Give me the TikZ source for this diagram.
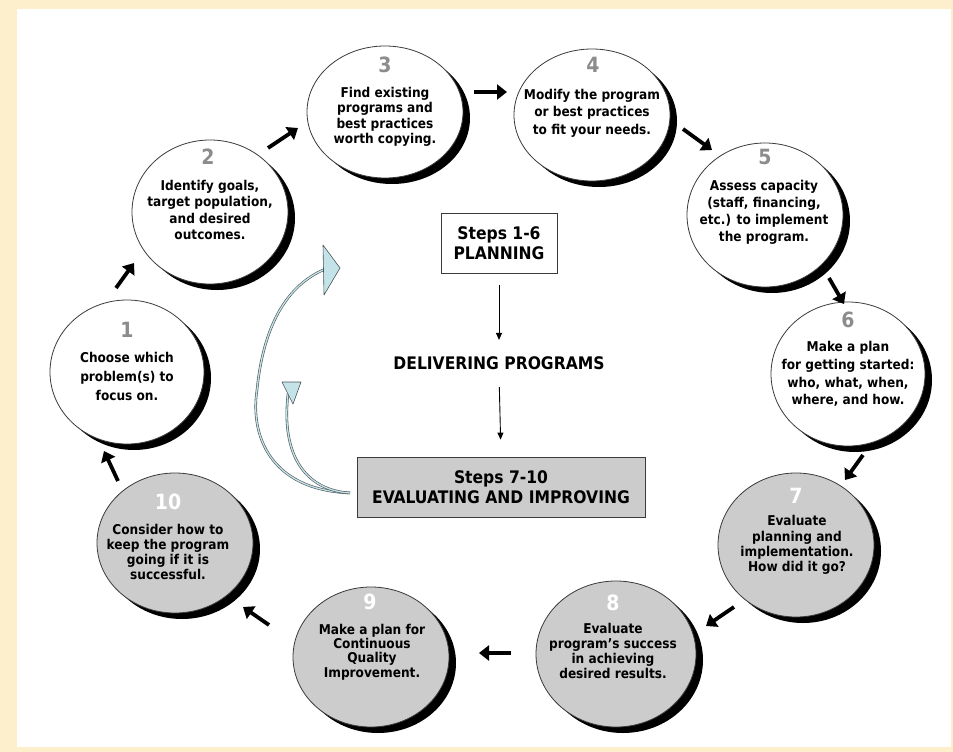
\documentclass[tikz,border=0pt]{standalone}
\usepackage{fontspec}
\setmainfont{DejaVu Sans Condensed}
\usetikzlibrary{arrows.meta,shapes.geometric}
\definecolor{cream}{HTML}{FDEFCB}
\definecolor{ellgray}{HTML}{CCCCCC}
\definecolor{numgray}{HTML}{8C8C8C}
\definecolor{arrowblue}{HTML}{C4E3E8}
\definecolor{edgec}{HTML}{3A3A3A}
\definecolor{curveedge}{HTML}{4A5558}
\newcommand{\bubble}[5]{%
  \node[ellipse, fill=black, minimum width=#3, minimum height=#4, inner sep=0pt] (#1s) at ([shift={(7,6)}]#2) {};
  \node[ellipse, draw=edgec, fill=#5, line width=0.8pt, minimum width=#3, minimum height=#4, inner sep=0pt] (#1) at (#2) {};
}
\tikzset{
  txt/.style={font=\bfseries\fontsize{13.5}{#1}\selectfont, align=center, text=black, inner sep=0pt},
  txt/.default=15.5,
  numw/.style={font=\bfseries\fontsize{21}{21}\selectfont, text=numgray, inner sep=0pt},
  numg/.style={font=\bfseries\fontsize{21}{21}\selectfont, text=white, inner sep=0pt},
  flow/.style={line width=3.8pt, -{Triangle[length=10pt,width=15pt]}},
  carrow/.style={line width=0.9pt, -{Triangle[length=7pt,width=6pt]}},
  boxtxt/.style={font=\bfseries\fontsize{17.3}{20}\selectfont, align=center},
  band/.style={draw=curveedge, double=arrowblue, double distance=1.3pt, line width=0.6pt},
  headshape/.style={fill=arrowblue, draw=curveedge, line width=0.6pt, line join=round}
}
\begin{document}
\begin{tikzpicture}[x=1pt,y=-1pt]
\fill[cream] (0,0) rectangle (953,752);
\fill[white] (17,9) rectangle (951,747);
\useasboundingbox (0,0) rectangle (953,752);

% bubbles
\bubble{e1}{127,372}{154pt}{144pt}{white}
\bubble{e2}{210,212}{156pt}{144pt}{white}
\bubble{e3}{385,112}{156pt}{132pt}{white}
\bubble{e4}{592,115}{156pt}{132pt}{white}
\bubble{e5}{765,215}{156pt}{144pt}{white}
\bubble{e6}{848,374}{154pt}{144pt}{white}
\bubble{e7}{796,545}{156pt}{144pt}{ellgray}
\bubble{e8}{616,654}{160pt}{146pt}{ellgray}
\bubble{e9}{371,657}{156pt}{140pt}{ellgray}
\bubble{e10}{175,543}{156pt}{140pt}{ellgray}

% numbers
\node[numw] (n1) at (127,330) {1};
\node[numw] (n2) at (208,157) {2};
\node[numw] (n3) at (385,65) {3};
\node[numw] (n4) at (593,65) {4};
\node[numw] (n5) at (765,157) {5};
\node[numw] (n6) at (848,320) {6};
\node[numg] (n7) at (796,496) {7};
\node[numg] (n8) at (613,603) {8};
\node[numg] (n9) at (370,602) {9};
\node[numg] (n10) at (168,502) {10};

% texts
\node[txt=19] (t1) at (127,376) {Choose which\\problem(s) to\\focus on.};
\node[txt=16.3] (t2) at (210,210) {Identify goals,\\target population,\\and desired\\outcomes.};
\node[txt] (t3) at (385,117) {Find existing\\programs and\\best practices\\worth copying.};
\node[txt=17.5] (t4) at (592,113) {Modify the program\\or best practices\\to fit your needs.};
\node[txt=17] (t5) at (764,212) {Assess capacity\\(staff, financing,\\etc.) to implement\\the program.};
\node[txt=17.7] (t6) at (848,374) {Make a plan\\for getting started:\\who, what, when,\\where, and how.};
\node[txt=15.3] (t7) at (797,545) {Evaluate\\planning and\\implementation.\\How did it go?};
\node[txt=15] (t8) at (613,651) {Evaluate\\program's success\\in achieving\\desired results.};
\node[txt=14.2] (t9) at (372,652) {Make a plan for\\Continuous\\Quality\\Improvement.};
\node[txt=15.3] (t10) at (168,552) {Consider how to\\keep the program\\going if it is\\successful.};

% flow arrows between bubbles
\coordinate (a12s) at (116,288); \coordinate (a12e) at (134,263);
\coordinate (a23s) at (268,148); \coordinate (a23e) at (298,128);
\coordinate (a34s) at (474,92);  \coordinate (a34e) at (507,92);
\coordinate (a45s) at (683,129); \coordinate (a45e) at (712,150);
\coordinate (a56s) at (829,278); \coordinate (a56e) at (844,304);
\coordinate (a67s) at (863,455); \coordinate (a67e) at (845,480);
\coordinate (a78s) at (734,607); \coordinate (a78e) at (706,626);
\coordinate (a89s) at (511,653); \coordinate (a89e) at (479,653);
\coordinate (a910s) at (269,625); \coordinate (a910e) at (243,607);
\coordinate (a101s) at (118,481); \coordinate (a101e) at (104,451);
\draw[flow] (a12s) -- (a12e);
\draw[flow] (a23s) -- (a23e);
\draw[flow] (a34s) -- (a34e);
\draw[flow] (a45s) -- (a45e);
\draw[flow] (a56s) -- (a56e);
\draw[flow] (a67s) -- (a67e);
\draw[flow] (a78s) -- (a78e);
\draw[flow] (a89s) -- (a89e);
\draw[flow] (a910s) -- (a910e);
\draw[flow] (a101s) -- (a101e);

% centre
\node[draw=edgec, fill=white, line width=0.8pt, minimum width=116pt, minimum height=60pt, boxtxt] (plan) at (499,243) {Steps 1-6\\PLANNING};
\node[boxtxt] (deliv) at (499,363) {DELIVERING PROGRAMS};
\node[draw=edgec, fill=ellgray, line width=0.8pt, minimum width=288pt, minimum height=60pt, boxtxt] (eval) at (501,487) {Steps 7-10\\EVALUATING AND IMPROVING};
\draw[carrow, shorten <=12pt, shorten >=13pt] (plan.south) -- (deliv.north);
\draw[carrow, shorten <=14pt, shorten >=17pt] (deliv.south) -- (eval.north);

% curved feedback arrows
\coordinate (ctail) at (350,493);
\coordinate (bigbase) at (323,270);
\coordinate (smallbase) at (288,394);
\draw[band] (ctail) .. controls (270,490) and (250,435) .. (257,390) .. controls (264,320) and (290,285) .. (bigbase);
\draw[band] (ctail) .. controls (305,490) and (281,455) .. (smallbase);
\filldraw[headshape] (323,245) -- (340,268) -- (324,295) -- cycle;
\filldraw[headshape] (282,382) -- (301,382) -- (293,404) -- cycle;
\end{tikzpicture}
\end{document}
